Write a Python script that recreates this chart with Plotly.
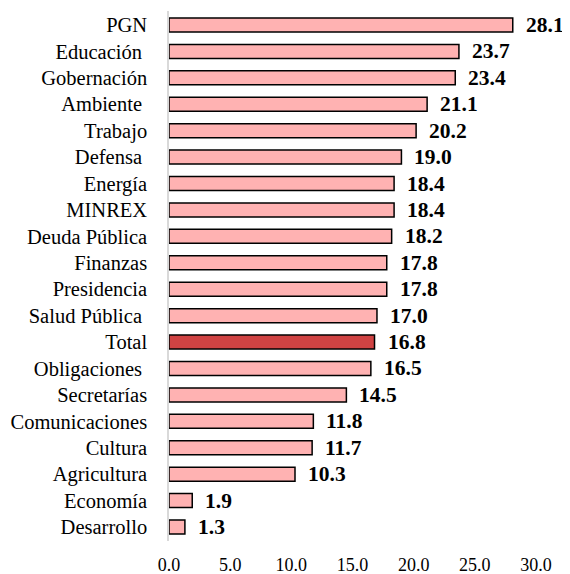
import plotly.graph_objects as go

categories = ["PGN", "Educación ", "Gobernación", "Ambiente ", "Trabajo", "Defensa ",
              "Energía", "MINREX", "Deuda Pública", "Finanzas", "Presidencia",
              "Salud Pública ", "Total", "Obligaciones ", "Secretarías", "Comunicaciones",
              "Cultura", "Agricultura", "Economía", "Desarrollo"]
values = [28.1, 23.7, 23.4, 21.1, 20.2, 19.0, 18.4, 18.4, 18.2, 17.8, 17.8,
          17.0, 16.8, 16.5, 14.5, 11.8, 11.7, 10.3, 1.9, 1.3]
tick_vals = [0, 5, 10, 15, 20, 25, 30]
tick_text = ["0.0", "5.0", "10.0", "15.0", "20.0", "25.0", "30.0"]

colors = ["#D04343" if c.strip() == "Total" else "#FFB2B2" for c in categories]

fig = go.Figure()
fig.add_trace(go.Bar(
    x=values, y=categories, orientation="h",
    marker=dict(color=colors, line=dict(color="black", width=1.5)),
    width=0.53,
))
for c, v in zip(categories, values):
    fig.add_annotation(x=v, y=c, text="<b>%.1f</b>" % v, showarrow=False,
                       xanchor="left", xshift=11,
                       font=dict(family="Liberation Serif", size=21.5, color="black"))

# page body has an 8px default margin, so the figure is sized to fit inside the window
fig.update_layout(
    width=562, height=566,
    margin=dict(l=161, r=34, t=3, b=33),
    plot_bgcolor="white", paper_bgcolor="white",
    showlegend=False,
    font=dict(family="Liberation Serif", color="black"),
    bargap=0.47,
)
fig.update_xaxes(range=[0, 30], tickvals=tick_vals, ticktext=tick_text,
                 showgrid=False, zeroline=False, showline=False, automargin=False,
                 tickfont=dict(size=18), ticklabelstandoff=11)
fig.update_yaxes(autorange="reversed", showgrid=False, zeroline=False, automargin=False,
                 showline=True, linecolor="#D9D9D9", linewidth=1.5,
                 tickfont=dict(size=20.5), ticklabelstandoff=16)

fig.write_html("out.html")
